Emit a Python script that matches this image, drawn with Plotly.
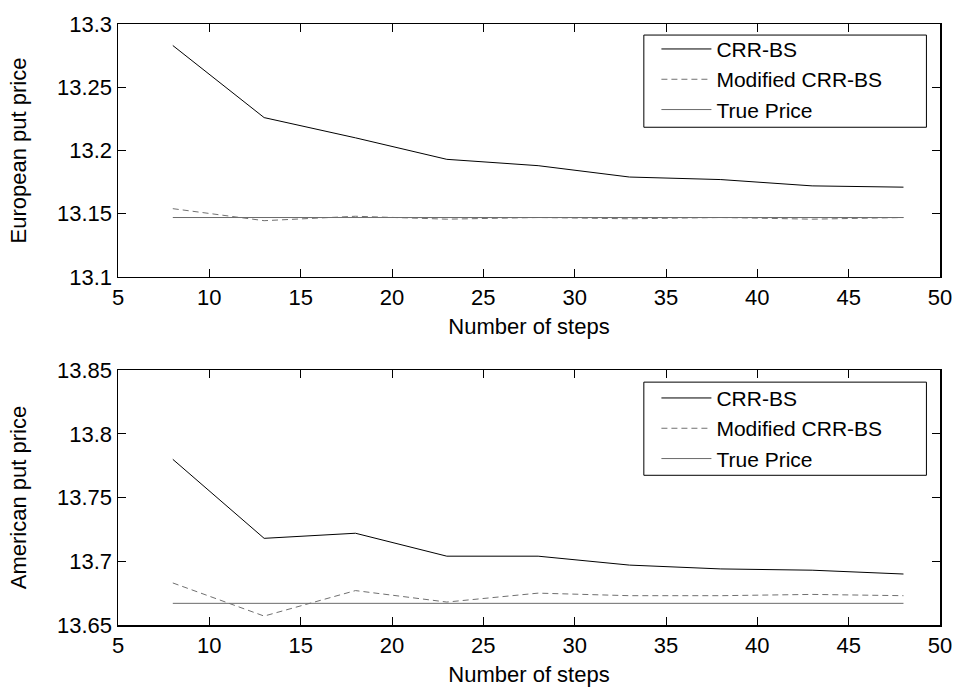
import plotly.graph_objects as go
from plotly.subplots import make_subplots

steps = [8, 13, 18, 23, 28, 33, 38, 43, 48]

eu_crr = [13.283, 13.226, 13.210, 13.193, 13.188, 13.179, 13.177, 13.172, 13.171]
eu_mod = [13.154, 13.1445, 13.148, 13.1457, 13.147, 13.146, 13.147, 13.1457, 13.147]
eu_true = [13.147] * len(steps)

am_crr = [13.780, 13.718, 13.722, 13.704, 13.704, 13.697, 13.694, 13.693, 13.690]
am_mod = [13.683, 13.657, 13.677, 13.668, 13.675, 13.673, 13.673, 13.674, 13.673]
am_true = [13.667] * len(steps)

x_ticks = [5, 10, 15, 20, 25, 30, 35, 40, 45, 50]
eu_ticks = [13.1, 13.15, 13.2, 13.25, 13.3]
eu_tick_text = ["13.1", "13.15", "13.2", "13.25", "13.3"]
am_ticks = [13.65, 13.7, 13.75, 13.8, 13.85]
am_tick_text = ["13.65", "13.7", "13.75", "13.8", "13.85"]

series_names = ["CRR-BS", "Modified CRR-BS", "True Price"]
line_colors = ["#000000", "#707070", "#6a6a6a"]
line_dashes = ["solid", "6px,4px", "solid"]

FONT = "Liberation Sans, Arial, Helvetica, sans-serif"
FS = 22
LFS = 21

fig = make_subplots(rows=2, cols=1)

top_data = [eu_crr, eu_mod, eu_true]
bot_data = [am_crr, am_mod, am_true]

for i, (name, ys) in enumerate(zip(series_names, top_data)):
    fig.add_trace(go.Scatter(
        x=steps, y=ys, mode="lines", name=name,
        line=dict(color=line_colors[i], width=1, dash=line_dashes[i]),
        legend="legend", legendgroup="t%d" % i,
    ), row=1, col=1)

for i, (name, ys) in enumerate(zip(series_names, bot_data)):
    fig.add_trace(go.Scatter(
        x=steps, y=ys, mode="lines", name=name,
        line=dict(color=line_colors[i], width=1, dash=line_dashes[i]),
        legend="legend2", legendgroup="b%d" % i,
    ), row=2, col=1)

axis_common = dict(
    showline=True, linecolor="black", linewidth=1.5, mirror="allticks",
    ticks="inside", ticklen=8, tickwidth=1, tickcolor="black",
    showgrid=False, zeroline=False, ticklabeloverflow="allow",
    tickfont=dict(family=FONT, size=FS, color="black"),
)

fig.update_xaxes(**axis_common, range=[5, 50], tickvals=x_ticks,
                 title=dict(text="Number of steps", font=dict(family=FONT, size=FS, color="black"), standoff=9))
fig.update_yaxes(**axis_common)

fig.update_layout(
    xaxis=dict(domain=[0, 1]),
    yaxis=dict(domain=[0.5791, 1.0], range=[13.1, 13.3], tickvals=eu_ticks, ticktext=eu_tick_text,
               title=dict(text="European put price", font=dict(family=FONT, size=FS, color="black"), standoff=24)),
    xaxis2=dict(domain=[0, 1]),
    yaxis2=dict(domain=[0.0, 0.4241], range=[13.65, 13.85], tickvals=am_ticks, ticktext=am_tick_text,
                title=dict(text="American put price", font=dict(family=FONT, size=FS, color="black"), standoff=24)),
)

legend_common = dict(
    xanchor="left", yanchor="top", x=0.655,
    bgcolor="rgba(0,0,0,0)", borderwidth=0,
    font=dict(family=FONT, size=LFS, color="black"),
    itemwidth=50, tracegroupgap=0, itemclick=False, itemdoubleclick=False,
)

# legend frames (paper coordinates)
frame_style = dict(type="rect", xref="paper", yref="paper",
                   line=dict(color="black", width=1), fillcolor="white", layer="below")
fig.add_shape(x0=0.6397, x1=0.9835, y0=0.8282, y1=0.9816, **frame_style)
fig.add_shape(x0=0.6397, x1=0.9835, y0=0.2491, y1=0.4041, **frame_style)

fig.update_layout(
    width=964, height=694,
    margin=dict(l=118, r=17, t=17, b=64),
    paper_bgcolor="white", plot_bgcolor="white",
    font=dict(family=FONT, size=FS, color="black"),
    showlegend=True,
    hovermode=False,
    legend=dict(**legend_common, y=0.992),
    legend2=dict(**legend_common, y=0.4113),
)

fig.write_html("out.html", config={"displayModeBar": False, "staticPlot": True},
               post_script="document.body.style.margin='0px';")
